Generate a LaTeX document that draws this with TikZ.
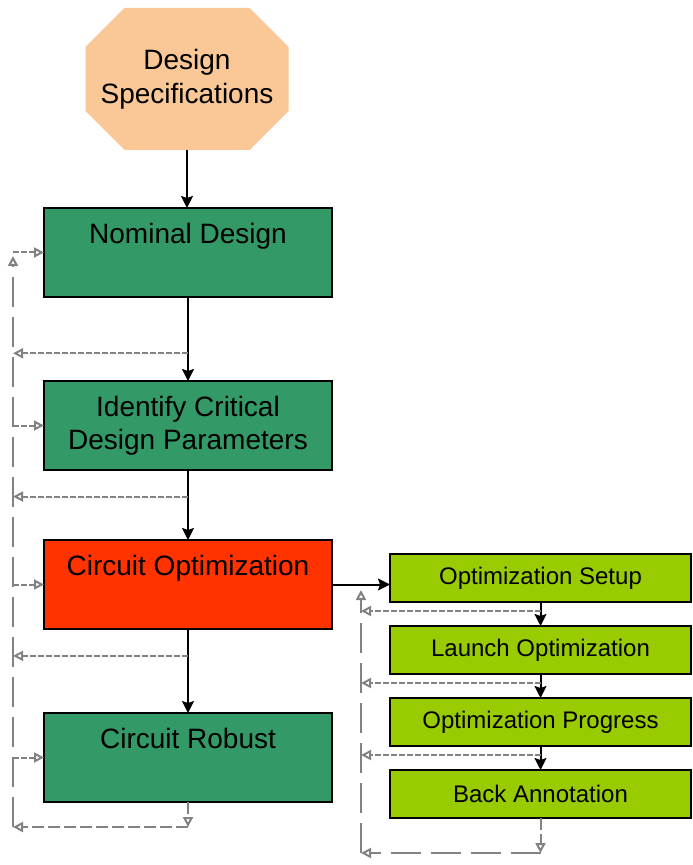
\documentclass[tikz,border=0pt]{standalone}
\usepackage{fontspec}
\setmainfont{Liberation Sans}
\usepackage{tikz}
\usetikzlibrary{positioning, arrows.meta, calc}
\definecolor{specpeach}{RGB}{250,200,150}
\definecolor{boxgreen}{RGB}{51,153,102}
\definecolor{optred}{RGB}{255,51,0}
\definecolor{stepgreen}{RGB}{153,204,0}
\definecolor{feedgray}{RGB}{130,130,130}
\tikzstyle{spec} = [
    rectangle, inner sep=0pt, outer sep=0pt,
    minimum width=101.5pt, minimum height=71pt,
    path picture={ % cut corners of the box
        \fill[specpeach] ([xshift=19.5pt]path picture bounding box.north west)
            -- ([xshift=-19.5pt]path picture bounding box.north east)
            -- ([yshift=-19.5pt]path picture bounding box.north east)
            -- ([yshift=19.5pt]path picture bounding box.south east)
            -- ([xshift=-19.5pt]path picture bounding box.south east)
            -- ([xshift=19.5pt]path picture bounding box.south west)
            -- ([yshift=19.5pt]path picture bounding box.south west)
            -- ([yshift=-19.5pt]path picture bounding box.north west) -- cycle;
    },
    align=center, font=\fontsize{14}{17}\selectfont
]
\tikzstyle{mainbox} = [
    rectangle, draw, line width=1pt, outer sep=0pt,
    minimum width=144pt, minimum height=44.5pt, % same size for all left boxes
    align=center, font=\fontsize{14}{16.5}\selectfont
]
\tikzstyle{substep} = [
    rectangle, draw, line width=0.8pt, fill=stepgreen, outer sep=0pt,
    minimum width=150.5pt, minimum height=24pt,
    align=center, font=\fontsize{12}{14}\selectfont
]
\tikzstyle{flow} = [line width=1pt, -{Stealth[length=6pt, width=6pt, inset=1pt]}]
\tikzstyle{feedin} = [feedgray, line width=1pt, dash pattern=on 3pt off 1pt, -{Triangle[open, length=5pt, width=5pt]}]
\tikzstyle{feedout} = [feedgray, line width=1pt, dash pattern=on 3pt off 1pt, -{Triangle[open, length=5pt, width=5pt]}]
\tikzstyle{rail} = [feedgray, line width=1pt, dash pattern=on 15pt off 5pt, -{Triangle[open, length=5pt, width=5pt]}]
\begin{document}
\begin{tikzpicture}[x=0.5pt, y=-0.5pt]
        \useasboundingbox (0,0) rectangle (692,865);
        % Main flow
        \node[spec] (specs) at (187,79) {Design\\Specifications};
        \node[mainbox, fill=boxgreen] (nominal) [below=29pt of specs, xshift=0.5pt] {Nominal Design\\[-2pt]\strut};
        \node[mainbox, fill=boxgreen] (identify) [below=42pt of nominal] {Identify Critical\\Design Parameters};
        \node[mainbox, fill=optred] (circopt) [below=35pt of identify] {Circuit Optimization\\[-2pt]\strut};
        \node[mainbox, fill=boxgreen] (robust) [below=42pt of circopt] {Circuit Robust\\[-2pt]\strut};

        % Optimization steps
        \node[substep] (setup) [right=29pt of circopt, yshift=3.25pt] {Optimization Setup};
        \node[substep] (launch) [below=12pt of setup] {Launch Optimization};
        \node[substep] (progress) [below=12pt of launch] {Optimization Progress};
        \node[substep] (backanno) [below=12pt of progress] {Back Annotation};

        % Feedback rails
        \coordinate (railtop) at (13,256);
        \coordinate (railbot) at (13,827);
        \coordinate (rrailtop) at (361,590);
        \coordinate (rrailbot) at (361,853);

        % Forward arrows
        \draw[flow] (specs.south) -- (specs.south |- nominal.north);
        \draw[flow] (nominal.south) -- (identify.north);
        \draw[flow] (identify.south) -- (circopt.north);
        \draw[flow] (circopt.south) -- (robust.north);
        \draw[flow] (circopt.east) -- (circopt.east -| setup.west);
        \draw[flow] (setup.south) -- (launch.north);
        \draw[flow] (launch.south) -- (progress.north);
        \draw[flow] (progress.south) -- (backanno.north);

        % Left feedback
        \draw[rail] (railbot) -- (railtop);
        \foreach \blk in {nominal, identify, circopt, robust}
            \draw[feedin] (railtop |- \blk.west) -- (\blk.west);
        \coordinate (fb1) at ($(nominal.south)!0.67!(identify.north)$);
        \coordinate (fb2) at ($(identify.south)!0.38!(circopt.north)$);
        \coordinate (fb3) at ($(circopt.south)!0.32!(robust.north)$);
        \foreach \pt in {fb1, fb2, fb3}
            \draw[feedout] (\pt) -- (\pt -| railtop);
        \draw[feedout, dash pattern=on 6pt off 2pt] (robust.south) -- (robust.south |- railbot);
        \draw[feedout, dash pattern=on 6pt off 2pt] (robust.south |- railbot) -- (railbot);

        % Right feedback
        \draw[rail] (rrailbot) -- (rrailtop);
        \coordinate (rf1) at ($(setup.south)!0.375!(launch.north)$);
        \coordinate (rf2) at ($(launch.south)!0.375!(progress.north)$);
        \coordinate (rf3) at ($(progress.south)!0.375!(backanno.north)$);
        \foreach \pt in {rf1, rf2, rf3}
            \draw[feedout] (\pt) -- (\pt -| rrailtop);
        \draw[feedout, dash pattern=on 6pt off 2pt] (backanno.south) -- (backanno.south |- rrailbot);
        \draw[rail] (backanno.south |- rrailbot) -- (rrailbot);
    \end{tikzpicture}
\end{document}
